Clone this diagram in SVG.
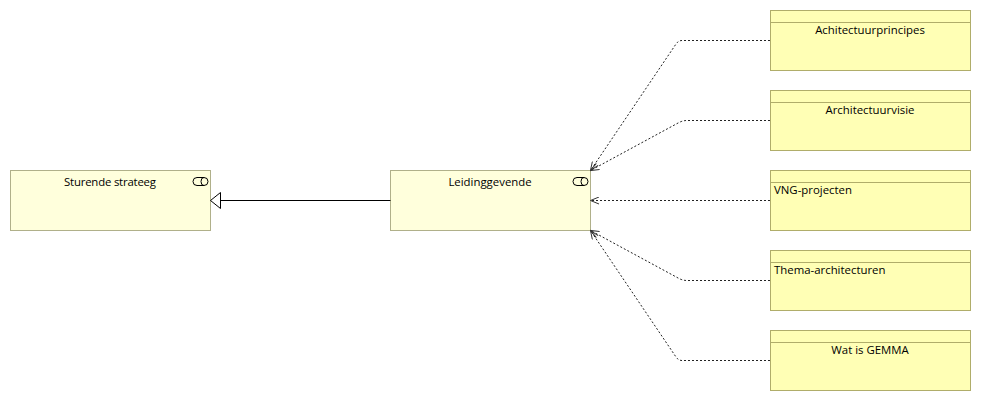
<svg xmlns="http://www.w3.org/2000/svg" width="981" height="401" viewBox="0 0 981 401">
<style>
text{font-family:"Open Sans","Noto Sans","DejaVu Sans",sans-serif;font-size:11.4px;fill:#000}
.m{text-anchor:middle}
.role{fill:#ffffdc;stroke:#b0b08a;stroke-width:1}
.obj{fill:#ffffb5;stroke:#b0ad6a;stroke-width:1}
.ic{fill:none;stroke:#000;stroke-width:1}
.dep{fill:none;stroke:#222;stroke-width:1;stroke-dasharray:2 2;marker-end:url(#open)}
</style>
<defs>
<marker id="open" markerUnits="userSpaceOnUse" markerWidth="10" markerHeight="8" refX="9.500" refY="4" orient="auto" viewBox="0 0 10 8">
<path d="M1 0.500L9.500 4L1 7.500" fill="none" stroke="#333" stroke-width="1"/>
</marker>
</defs>
<rect width="981" height="401" fill="#fff"/>
<g id="sturende-strateeg">
<rect class="role" x="10.500" y="170.500" width="200" height="60"/>
<path class="ic" d="M197 177.500H204A4 4 0 0 1 204 185.500H197A4 4 0 0 1 197 177.500ZM204 177.500A3 4 0 0 0 204 185.500"/>
<text class="m" x="110" y="186" textLength="92">Sturende strateeg</text>
</g>
<g id="leidinggevende">
<rect class="role" x="390.500" y="170.500" width="200" height="60"/>
<path class="ic" d="M577 177.500H584A4 4 0 0 1 584 185.500H577A4 4 0 0 1 577 177.500ZM584 177.500A3 4 0 0 0 584 185.500"/>
<text class="m" x="490" y="186">Leidinggevende</text>
</g>
<g id="achitectuurprincipes">
<rect class="obj" x="770.500" y="10.500" width="200" height="60"/>
<path class="obj" d="M770.500 22.500H970.500"/>
<text class="m" x="870" y="34">Achitectuurprincipes</text>
</g>
<g id="architectuurvisie">
<rect class="obj" x="770.500" y="90.500" width="200" height="60"/>
<path class="obj" d="M770.500 102.500H970.500"/>
<text class="m" x="870" y="114">Architectuurvisie</text>
</g>
<g id="vng-projecten">
<rect class="obj" x="770.500" y="170.500" width="200" height="60"/>
<path class="obj" d="M770.500 182.500H970.500"/>
<text x="774" y="194">VNG-projecten</text>
</g>
<g id="thema-architecturen">
<rect class="obj" x="770.500" y="250.500" width="200" height="60"/>
<path class="obj" d="M770.500 262.500H970.500"/>
<text x="774" y="274">Thema-architecturen</text>
</g>
<g id="wat-is-gemma">
<rect class="obj" x="770.500" y="330.500" width="200" height="60"/>
<path class="obj" d="M770.500 342.500H970.500"/>
<text class="m" x="870" y="354">Wat is GEMMA</text>
</g>
<g id="connectors">
<path d="M390.500 200.500H220" fill="none" stroke="#000" stroke-width="1"/>
<path d="M220.500 192.500L210.500 200.500L220.500 208.500Z" fill="#fff" stroke="#000" stroke-width="1"/>
<path class="dep" d="M770 40.500H682Q678.500 40.500 676 44L590.500 170.500"/>
<path class="dep" d="M770 120.500H687Q683 120.500 679 122.500L590.500 170.500"/>
<path class="dep" d="M770 200.500H590.500"/>
<path class="dep" d="M770 280.500H687Q683 280.500 679 278.500L590.500 230.500"/>
<path class="dep" d="M770 360.500H682Q678.500 360.500 676 357L590.500 230.500"/>
</g>
</svg>
